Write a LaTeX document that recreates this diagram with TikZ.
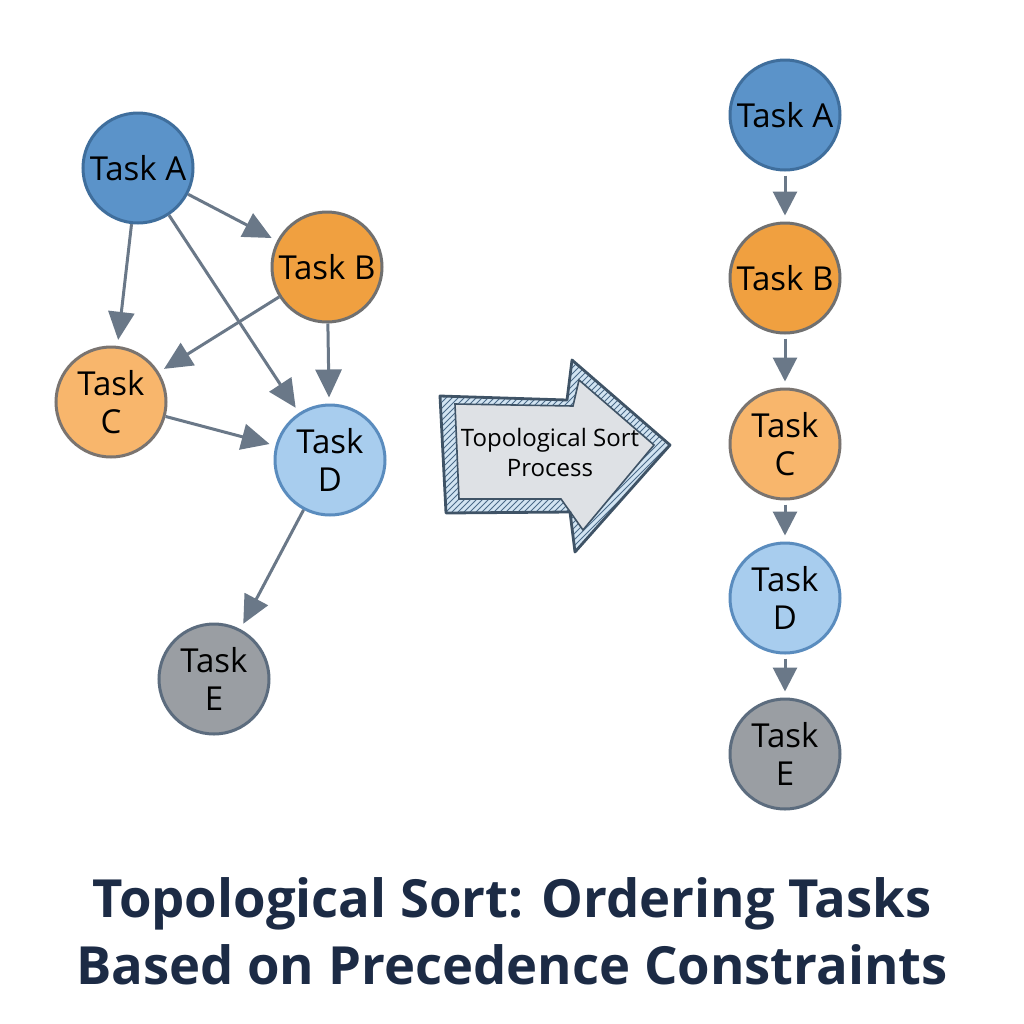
\documentclass[tikz,border=0pt]{standalone}
\usepackage{fontspec}
\setmainfont{Open Sans}
\usetikzlibrary{arrows.meta,patterns}
\definecolor{cA}{HTML}{5B93C9}
\definecolor{bA}{HTML}{3F6E9C}
\definecolor{cB}{HTML}{F0A040}
\definecolor{bB}{HTML}{707070}
\definecolor{cC}{HTML}{F8B66C}
\definecolor{bC}{HTML}{7A7470}
\definecolor{cD}{HTML}{A8CDEE}
\definecolor{bD}{HTML}{5A8CBE}
\definecolor{cE}{HTML}{9A9EA3}
\definecolor{bE}{HTML}{5C6C7E}
\definecolor{conncol}{HTML}{6A7888}
\definecolor{titlecol}{HTML}{1C2B45}
\definecolor{bigfill}{HTML}{DEE1E5}
\definecolor{bigedge}{HTML}{3F5366}
\definecolor{hatchbg}{HTML}{D2E4F2}
\definecolor{hatchln}{HTML}{4A6A88}
\begin{document}
\begin{tikzpicture}[x=0.5pt,y=-0.5pt,
  task/.style={circle, minimum size=55pt, inner sep=0pt, line width=1.5pt, align=center,
    font=\fontsize{16.5}{19}\selectfont, text=black},
  ta/.style={task, fill=cA, draw=bA},
  tb/.style={task, fill=cB, draw=bB},
  tc/.style={task, fill=cC, draw=bC},
  td/.style={task, fill=cD, draw=bD},
  te/.style={task, fill=cE, draw=bE},
  conn/.style={draw=conncol, line width=1.5pt, shorten >=3pt,
    -{Triangle[length=14pt,width=13pt,fill=conncol]}},
  sconn/.style={draw=conncol, line width=1.5pt, shorten >=3pt, shorten <=2pt,
    -{Triangle[length=12pt,width=12pt,fill=conncol]}}
]
\useasboundingbox (0,0) rectangle (1024,1024);
\fill[white] (0,0) rectangle (1024,1024);

% left graph
\node[ta] (A) at (138,168) {Task A};
\node[tb] (B) at (327,267) {Task B};
\node[tc] (C) at (111,402) {Task\\C};
\node[td] (D) at (330,460) {Task\\D};
\node[te] (E) at (214,679) {Task\\E};

\draw[conn] (A) -- (B);
\draw[conn] (A) -- (C);
\draw[conn] (A) -- (D);
\draw[conn] (B) -- (C);
\draw[conn] (B) -- (D);
\draw[conn] (C) -- (D);
\draw[conn] (D) -- (E);

% big arrow
\fill[hatchbg] (440,396) -- (567,400) -- (572,360) -- (670,445) -- (575,552) -- (570,512) -- (446,513) -- cycle;
\fill[pattern=north east lines, pattern color=hatchln] (440,396) -- (567,400) -- (572,360) -- (670,445) -- (575,552) -- (570,512) -- (446,513) -- cycle;
\filldraw[fill=bigfill, draw=bigedge, line width=0.8pt] (455,404) -- (573,406) -- (579,380) -- (654,445) -- (583,530) -- (561,499) -- (459,499) -- cycle;
\draw[bigedge, line width=1.4pt, line join=round] (440,396) -- (567,400) -- (572,360) -- (670,445) -- (575,552) -- (570,512) -- (446,513) -- cycle;
\node[align=center, font=\fontsize{12}{15}\selectfont, text=black] (P) at (550,452) {Topological Sort\\Process};

% right column
\node[ta] (RA) at (785,115) {Task A};
\node[tb] (RB) at (785,278) {Task B};
\node[tc] (RC) at (785,444) {Task\\C};
\node[td] (RD) at (785,598) {Task\\D};
\node[te] (RE) at (785,754) {Task\\E};
\draw[sconn] (RA) -- (RB);
\draw[sconn] (RB) -- (RC);
\draw[sconn] (RC) -- (RD);
\draw[sconn] (RD) -- (RE);

% title
\node[align=center, text=titlecol, font=\fontsize{26.3}{33.5}\selectfont\bfseries] (T) at (512,931)
  {Topological Sort: Ordering Tasks\\Based on Precedence Constraints};
\end{tikzpicture}
\end{document}
